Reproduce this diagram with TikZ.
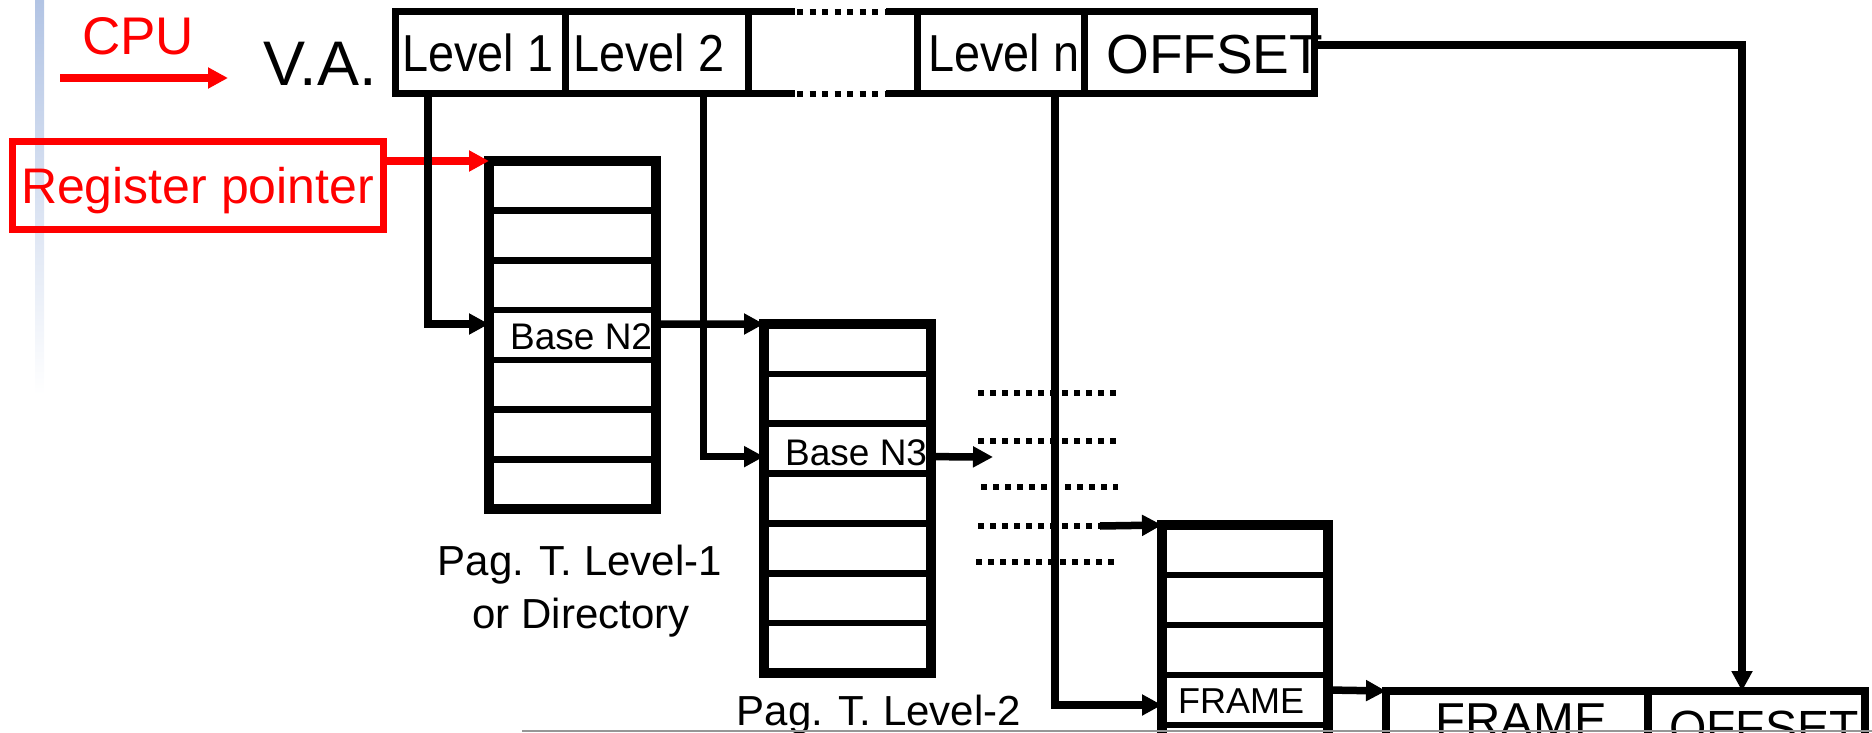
\documentclass[tikz,border=0pt]{standalone}
\usepackage{fontspec}
\setmainfont{Liberation Sans}
\newfontfamily\condfont[FakeStretch=0.9]{Liberation Sans}
\usetikzlibrary{arrows.meta}
\definecolor{barblue}{RGB}{178,196,228}
\definecolor{linegray}{RGB}{150,150,150}
\begin{document}
\begin{tikzpicture}[x=1pt,y=-1pt,
  conn/.style={line width=7.5pt, -{Triangle[length=20pt,width=20pt]}},
  redconn/.style={conn, draw=red},
  vacell/.style={draw, line width=7pt, minimum height=82pt, inner sep=0pt, outer sep=0pt},
  vaedge/.style={line width=7pt},
  vadots/.style={line width=6pt, dash pattern=on 6pt off 6.5pt},
  middots/.style={line width=6pt, dash pattern=on 6pt off 6pt},
  tabrow/.style={draw, line width=6.5pt, inner sep=0pt, outer sep=0pt},
  tabframe/.style={draw, line width=10pt},
  pacell/.style={draw, line width=7.5pt, minimum height=120pt, inner sep=0pt, outer sep=0pt},
  txt/.style={anchor=base west, inner sep=0pt},
  vatext/.style={txt, font=\condfont\fontsize{52pt}{60pt}\selectfont},
  celltext/.style={txt, font=\fontsize{37pt}{44pt}\selectfont},
  captext/.style={anchor=base, inner sep=0pt, font=\fontsize{42pt}{50pt}\selectfont}
]
\useasboundingbox (0,0) rectangle (1872,733);
\clip (0,0) rectangle (1872,733);

% side bar
\shade[top color=barblue, bottom color=white] (35,0) rectangle (44,395);

% CPU and V.A.
\node[txt, text=red, font=\fontsize{53pt}{60pt}\selectfont] (cpu) at (82,55) {CPU};
\coordinate (cpuA) at (60,78);
\coordinate (cpuB) at (228,78);
\draw[redconn] (cpuA) -- (cpuB);
\node[txt, font=\fontsize{63pt}{70pt}\selectfont] (va) at (263,86) {V.A.};

% virtual address cells
\node[vacell, minimum width=170pt] (vl1) at (480,53) {};
\node[vacell, minimum width=183pt] (vl2) at (656.5,53) {};
\node[inner sep=0pt, outer sep=0pt, minimum width=169pt, minimum height=82pt] (vblank) at (832.5,53) {};
\node[vacell, minimum width=167pt] (vln) at (1000.5,53) {};
\node[vacell, minimum width=230pt] (voff) at (1199,53) {};
\draw[vaedge] (vblank.north west) -- ([xshift=-122pt]vblank.north east);
\draw[vadots] ([xshift=49pt]vblank.north west) -- ([xshift=-30pt]vblank.north east);
\draw[vaedge] ([xshift=-31pt]vblank.north east) -- (vblank.north east);
\draw[vaedge] (vblank.south west) -- ([xshift=-122pt]vblank.south east);
\draw[vadots] ([xshift=49pt]vblank.south west) -- ([xshift=-30pt]vblank.south east);
\draw[vaedge] ([xshift=-31pt]vblank.south east) -- (vblank.south east);
\node[vatext] (vl1t) at (402,72) {Level 1};
\node[vatext] (vl2t) at (573,72) {Level 2};
\node[vatext] (vlnt) at (928,72) {Level n};
\node[txt, font=\fontsize{55pt}{62pt}\selectfont] (vofft) at (1106,74) {OFFSET};

% register pointer
\node[draw=red, line width=7pt, minimum width=371pt, minimum height=87pt, inner sep=0pt,
      text=red, font=\fontsize{50pt}{58pt}\selectfont, text height=36pt, text depth=0pt]
      (reg) at (197.5,185.5) {Register pointer};

% table 1
\foreach \i in {0,...,6}
  \node[tabrow, minimum width=167pt, minimum height=49.714pt] (t1r\i) at (572.5,{161+49.714*(\i+0.5)}) {};
\node[celltext] (bn2) at (510,349) {Base N2};
\draw[tabframe] (t1r0.north west) rectangle (t1r6.south east);

% table 2
\foreach \i in {0,...,6}
  \node[tabrow, minimum width=167pt, minimum height=49.857pt] (t2r\i) at (847.5,{324+49.857*(\i+0.5)}) {};
\node[celltext] (bn3) at (785,465) {Base N3};
\draw[tabframe] (t2r0.north west) rectangle (t2r6.south east);

% table 3
\foreach \i in {0,...,6}
  \node[tabrow, minimum width=166pt, minimum height=50pt] (t3r\i) at (1245,{525+50*(\i+0.5)}) {};
\node[txt, font=\fontsize{36pt}{42pt}\selectfont] (frt) at (1178,713) {FRAME};
\draw[tabframe] (t3r0.north west) rectangle (t3r6.south east);

% physical address
\node[pacell, minimum width=262pt] (pafr) at (1517,751) {};
\node[pacell, minimum width=217pt] (paoff) at (1756.5,751) {};
\node[txt, font=\fontsize{49pt}{56pt}\selectfont] (pafrt) at (1435,737) {FRAME};
\node[txt, font=\fontsize{48pt}{56pt}\selectfont] (paofft) at (1669,744) {OFFSET};

% dotted continuation lines
\draw[middots] (978,393) -- (1116,393);
\draw[middots] (978,441) -- (1116,441);
\draw[middots] (981,487) -- (1118,487);
\draw[middots] (978,526) -- (1102,526);
\draw[middots] (976,562) -- (1114,562);

% captions
\node[captext] (cap1a) at (580,575) {Pag. T. Level-1};
\node[captext] (cap1b) at (581,628) {or Directory};
\node[captext] (cap2) at (879,725) {Pag. T. Level-2};

% connectors
\draw[redconn] (reg.east |- t1r0.north west) -- (t1r0.north west);
\draw[conn] ([xshift=-52pt]vl1.south) |- ([yshift=11pt]t1r3.west);
\draw[conn] ([yshift=11pt]t1r3.east) -- (t2r0.north west);
\draw[conn] ([xshift=47pt]vl2.south) |- ([yshift=-8pt]t2r2.west);
\coordinate (n3tip) at (993,457);
\draw[conn] ([yshift=-8pt]t2r2.east) -- (n3tip);
\coordinate (d4end) at (1100,526);
\draw[conn] (d4end) -- (t3r0.north west);
\draw[conn] ([xshift=54.5pt]vln.south) |- ([yshift=-5pt]t3r3.west);
\draw[conn] ([yshift=10pt]t3r3.east) -- (pafr.north west);
\draw[conn] ([yshift=8pt]voff.east) -| ([xshift=-14.5pt]paoff.north);

% bottom separator
\draw[linegray, line width=2pt] (522,731) -- (1872,731);
\end{tikzpicture}
\end{document}
